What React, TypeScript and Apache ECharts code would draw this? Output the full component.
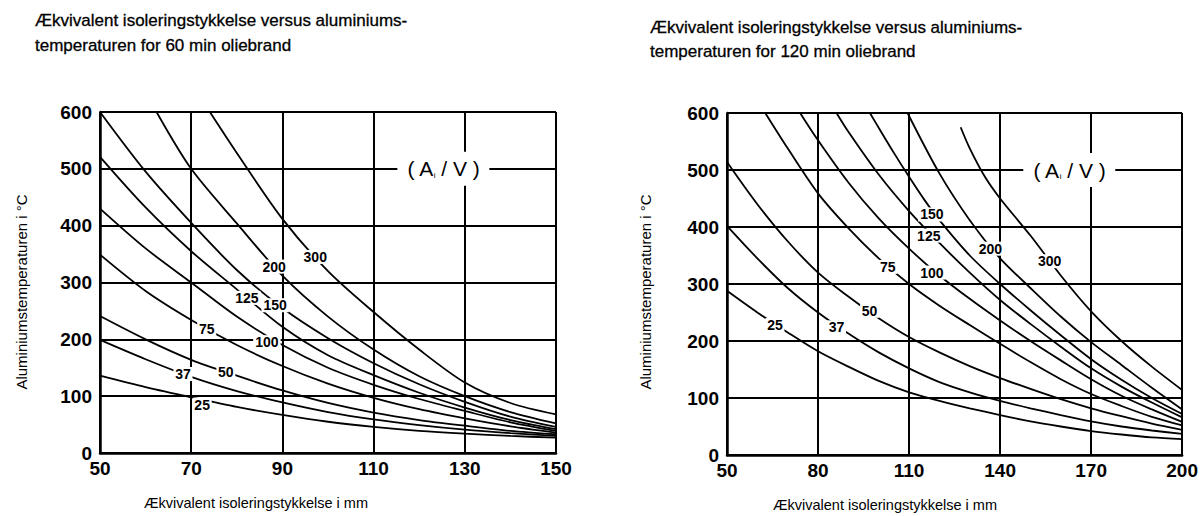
import React, { useEffect, useRef } from "react";
import * as echarts from "echarts";

// ---------- data ----------
const curveNames = ["25", "37", "50", "75", "100", "125", "150", "200", "300"];

// 60 min oil fire (left chart) – [thickness mm, temperature °C]
const left25 = [[50, 136], [60, 116], [70, 98], [80, 81], [90, 67], [100, 55], [110, 46], [120, 39], [130, 34], [140, 30], [150, 27]];
const left37 = [[50, 199], [60, 165], [70, 134], [80, 109], [90, 89], [100, 72], [110, 59], [120, 49], [130, 41], [140, 35], [150, 30]];
const left50 = [[50, 241], [60, 200], [70, 164], [80, 136], [90, 110], [100, 88], [110, 71], [120, 58], [130, 48], [140, 39], [150, 33]];
const left75 = [[50, 349], [60, 285], [70, 234], [80, 190], [90, 153], [100, 122], [110, 97], [120, 77], [130, 61], [140, 47], [150, 36]];
const left100 = [[50, 430], [60, 360], [70, 300], [80, 240], [90, 190], [100, 150], [110, 120], [120, 95], [130, 74], [140, 54], [150, 39]];
const left125 = [[50, 521], [60, 432], [70, 355], [80, 288], [90, 222], [100, 172], [110, 137], [120, 106], [130, 80], [140, 58], [150, 42]];
const left150 = [[50, 600], [60, 495], [70, 405], [80, 322], [90, 255], [100, 202], [110, 158], [120, 121], [130, 90], [140, 64], [150, 46]];
const left200 = [[62.4, 600], [70, 500], [80, 404], [90, 312], [100, 240], [110, 182], [120, 135], [130, 100], [140, 72], [150, 52]];
const left300 = [[74.1, 600], [80, 528], [90, 412], [100, 320], [110, 248], [120, 182], [130, 124], [140, 88], [150, 68]];
const leftLabelAt = [[72.4, 85], [68.2, 139], [77.6, 143], [73.4, 219], [86.6, 195], [82.2, 273], [88.4, 260], [88.2, 328], [97.2, 345]];

// 120 min oil fire (right chart)
const right25 = [[50, 288], [60, 250], [70, 215], [80, 182], [90, 155], [100, 130], [110, 110], [120, 95], [130, 82], [140, 70], [150, 59], [160, 50], [170, 42], [180, 36], [190, 31], [200, 28]];
const right37 = [[50, 402], [60, 345], [70, 293], [80, 250], [90, 213], [100, 180], [110, 152], [120, 128], [130, 110], [140, 95], [150, 82], [160, 70], [170, 59], [180, 50], [190, 43], [200, 37]];
const right50 = [[50, 514], [60, 440], [70, 375], [80, 320], [90, 278], [100, 240], [110, 207], [120, 180], [130, 156], [140, 135], [150, 116], [160, 98], [170, 82], [180, 68], [190, 55], [200, 44]];
const right75 = [[62.6, 600], [70, 538], [80, 459], [90, 398], [100, 345], [110, 300], [120, 262], [130, 228], [140, 195], [150, 163], [160, 133], [170, 107], [180, 86], [190, 67], [200, 52]];
const right100 = [[74.1, 600], [80, 552], [90, 478], [100, 415], [110, 362], [120, 315], [130, 274], [140, 236], [150, 200], [160, 166], [170, 133], [180, 104], [190, 80], [200, 58]];
const right125 = [[86.1, 600], [90, 567], [100, 492], [110, 428], [120, 372], [130, 320], [140, 272], [150, 230], [160, 190], [170, 152], [180, 120], [190, 92], [200, 66]];
const right150 = [[97.1, 600], [100, 574], [105, 530], [110, 488], [115, 448], [120, 412], [130, 350], [140, 300], [150, 254], [160, 210], [170, 168], [180, 132], [190, 100], [200, 72]];
const right200 = [[109.5, 600], [120, 494], [130, 412], [140, 345], [150, 293], [160, 243], [170, 198], [180, 158], [190, 118], [200, 80]];
const right300 = [[127, 575], [130, 538], [135, 488], [140, 450], [150, 385], [160, 315], [170, 252], [180, 200], [190, 155], [200, 114]];
const rightLabelAt = [[65.8, 228], [86.1, 224], [97, 253], [103, 330], [117.5, 320], [116.5, 385], [117.5, 422], [136.8, 362], [156.3, 340]];

const leftCurves = [left25, left37, left50, left75, left100, left125, left150, left200, left300];
const rightCurves = [right25, right37, right50, right75, right100, right125, right150, right200, right300];

const xStart = 50; // both x axes start at 50 mm
const leftXMax = 150;
const rightXMax = 200;
const leftXStep = 20;
const rightXStep = 30;
const yMax = 600;
const yStep = 100;
const areaRatioLeft = [125.3, 500];
const areaRatioRight = [162.8, 500];

const leftTitle = ["Ækvivalent isoleringstykkelse versus aluminiums-", "temperaturen for 60 min oliebrand"];
const rightTitle = ["Ækvivalent isoleringstykkelse versus aluminiums-", "temperaturen for 120 min oliebrand"];
const yName = "Aluminiumstemperaturen i °C";
const xName = "Ækvivalent isoleringstykkelse i mm";

const FONT = "'Liberation Sans', Arial, Helvetica, sans-serif";

function buildSeries(curves: number[][][], labelAt: number[][], idx: number, av: number[]) {
  return curves.map((pts, i) => {
    const name = curveNames[i];
    const markData: any[] = [
      {
        coord: [labelAt[i][0] - xStart, labelAt[i][1]],
        symbol: "rect",
        symbolSize: [name.length * 8.5 + 2, 14],
        itemStyle: { color: "#fff" },
        label: {
          show: true,
          position: "inside",
          formatter: name,
          color: "#000",
          fontFamily: FONT,
          fontWeight: "bold",
          fontSize: 14,
        },
      },
    ];
    if (i === curves.length - 1) {
      markData.push({
        coord: [av[0] - xStart, av[1]],
        symbol: "rect",
        symbolSize: [92, 34],
        itemStyle: { color: "#fff" },
        label: {
          show: true,
          position: "inside",
          formatter: "( A{s|i} / V )",
          color: "#000",
          fontFamily: FONT,
          fontSize: 21,
          rich: {
            s: { fontSize: 8, fontFamily: FONT, color: "#000", verticalAlign: "bottom", padding: [7, 0, 0, 0] },
          },
        },
      });
    }
    return {
      type: "line",
      name: name + "-" + idx,
      xAxisIndex: idx,
      yAxisIndex: idx,
      data: pts.map((p) => [p[0] - xStart, p[1]]),
      showSymbol: false,
      smooth: 0.3,
      silent: true,
      lineStyle: { color: "#000", width: 1.8 },
      z: 3,
      markPoint: { silent: true, data: markData, z: 6 },
    };
  });
}

function makeXAxis(grid: number, max: number, step: number) {
  return {
    type: "value",
    gridIndex: grid,
    min: 0,
    max: max - xStart,
    interval: step,
    axisLine: { show: true, lineStyle: { color: "#000", width: 2.5 } },
    axisTick: { show: false },
    splitLine: { show: true, lineStyle: { color: "#000", width: 2 } },
    axisLabel: {
      color: "#000",
      fontFamily: FONT,
      fontWeight: "bold",
      fontSize: 19,
      margin: 6,
      formatter: (v: number) => String(v + xStart),
    },
  };
}

function makeYAxis(grid: number) {
  return {
    type: "value",
    gridIndex: grid,
    min: 0,
    max: yMax,
    interval: yStep,
    axisLine: { show: true, lineStyle: { color: "#000", width: 2.5 } },
    axisTick: { show: false },
    splitLine: { show: true, lineStyle: { color: "#000", width: 2 } },
    axisLabel: { color: "#000", fontFamily: FONT, fontWeight: "bold", fontSize: 19, margin: 8 },
  };
}

function textEl(x: number, y: number, text: string, size: number, extra: any = {}, heavy = 0) {
  return {
    type: "text",
    x,
    y,
    ...extra,
    style: {
      text,
      fill: "#000",
      stroke: heavy ? "#000" : undefined,
      lineWidth: heavy,
      font: `${size}px ${FONT}`,
      textAlign: extra.align || "left",
      textVerticalAlign: "middle",
    },
  };
}

export default function App() {
  const ref = useRef<HTMLDivElement>(null);
  useEffect(() => {
    if (!ref.current) return;
    const chart = echarts.init(ref.current, undefined, { renderer: "svg" });
    const option: any = {
      animation: false,
      backgroundColor: "#fff",
      grid: [
        { left: 100, top: 112, width: 456, height: 341 },
        { left: 727, top: 113, width: 456, height: 342 },
      ],
      xAxis: [makeXAxis(0, leftXMax, leftXStep), makeXAxis(1, rightXMax, rightXStep)],
      yAxis: [makeYAxis(0), makeYAxis(1)],
      series: [
        ...buildSeries(leftCurves, leftLabelAt, 0, areaRatioLeft),
        ...buildSeries(rightCurves, rightLabelAt, 1, areaRatioRight),
      ],
      graphic: [
        textEl(35, 20, leftTitle[0], 17, {}, 0.3),
        textEl(35, 45, leftTitle[1], 17, {}, 0.3),
        textEl(650, 27, rightTitle[0], 17, {}, 0.3),
        textEl(650, 51, rightTitle[1], 17, {}, 0.3),
        textEl(21, 292, yName, 15, { rotation: Math.PI / 2, align: "center" }),
        textEl(645, 292, yName, 15, { rotation: Math.PI / 2, align: "center" }),
        textEl(256, 503, xName, 14.5, { align: "center" }),
        textEl(885, 505, xName, 14.5, { align: "center" }),
      ],
    };
    chart.setOption(option);
    return () => chart.dispose();
  }, []);
  return (
    <div
      ref={ref}
      style={{ position: "fixed", left: 0, top: 0, width: 1201, height: 516, background: "#fff" }}
    />
  );
}
